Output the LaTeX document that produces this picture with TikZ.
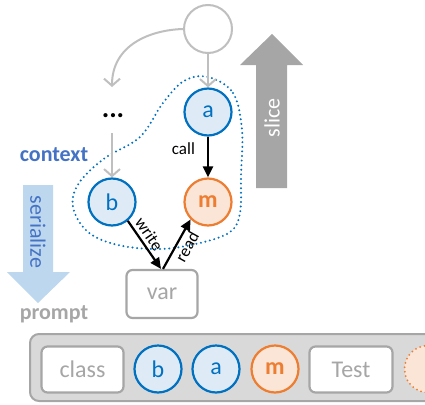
\documentclass[tikz,border=0pt]{standalone}
\usepackage{fontspec}
\setmainfont{Carlito}
\usetikzlibrary{arrows.meta}

\definecolor{fnblue}{HTML}{0070C0}
\definecolor{fnbluefill}{HTML}{DEEBF7}
\definecolor{fnorange}{HTML}{ED7D31}
\definecolor{fnorangefill}{HTML}{FBE5D6}
\definecolor{ctxblue}{HTML}{4472C4}
\definecolor{serblue}{HTML}{BDD7EE}
\definecolor{tgray}{HTML}{A6A6A6}
\definecolor{cgray}{HTML}{BFBFBF}
\definecolor{barfill}{HTML}{D9D9D9}

\tikzset{
  fn/.style={circle, minimum size=47pt, inner sep=0pt, line width=2.2pt,
    draw=fnblue, fill=fnbluefill, text=fnblue, font=\fontsize{24}{26}\selectfont},
  focal/.style={fn, draw=fnorange, fill=fnorangefill, text=fnorange,
    font=\fontsize{24}{26}\selectfont\bfseries},
  tok/.style={draw=tgray, line width=2.2pt, rounded corners=6pt, fill=white,
    text=tgray, font=\fontsize{24}{26}\selectfont},
  flow/.style={line width=2.2pt, -{Triangle[length=11pt,width=10pt]}},
  ghost/.style={line width=2pt, draw=cgray, -{Straight Barb[length=7pt,width=16pt]}},
  edgelbl/.style={font=\fontsize{17}{19}\selectfont, inner sep=2pt}
}

\begin{document}
\begin{tikzpicture}[x=1pt,y=-1pt]
			%%%%% START %%%%%
			\useasboundingbox (0,0) rectangle (425,404);
			
			% slice arrow
			\fill[tgray] (256,188) -- (256,65) -- (240,65) -- (272,34) -- (303,65) -- (287,65) -- (287,188) -- cycle;
			\node[text=white, rotate=90, font=\fontsize{22}{24}\selectfont] (slice) at (272,118) {slice};
			
			% serialize arrow
			\fill[serblue] (23,185) -- (53,185) -- (53,272) -- (70,272) -- (38,303) -- (7,272) -- (23,272) -- cycle;
			\node[text=ctxblue, rotate=-90, font=\fontsize{22}{24}\selectfont] (ser) at (38,232) {serialize};
			
			\node[text=ctxblue, font=\fontsize{22}{24}\selectfont\bfseries] (ctx) at (54,155) {context};
			\node[text=tgray, font=\fontsize{22}{24}\selectfont\bfseries] (prompt) at (54,314) {prompt};
			
			% context boundary
			\draw[fnblue, line width=2.2pt, line cap=round, dash pattern=on 0pt off 4.6pt]
				plot[smooth cycle, tension=0.6] coordinates {(208,77) (233,93) (242,130) (241,175) (240,213)
				(230,232) (200,243) (160,249) (118,245) (88,232) (73,207) (79,183) (105,158) (140,137) (163,103) (184,81)};
			
			% call graph
			\node[circle, draw=cgray, line width=2pt, fill=white, minimum size=48pt] (top) at (208,29) {};
			\node[fn] (a) at (208,112) {a};
			\node[fn] (b) at (112,202) {b};
			\node[focal] (m) at (208,202) {m};
			\node[font=\fontsize{28}{30}\selectfont\bfseries, inner sep=1pt] (dots) at (113,116) {...};
			\coordinate (dotsin) at (112,87);
			
			\draw[ghost] (top) -- (a);
			\draw[ghost] (top.west) .. controls (150,30) and (112,45) .. (dotsin);
			\draw[ghost] (112,133) -- (b);
			
			\draw[flow] (a) -- node[edgelbl, left=10pt, pos=0.3] (call) {call} (m);
			
			\node[tok, minimum width=71pt, minimum height=48pt] (var) at (162,294) {var};
			\draw[flow] (b.-50) -- node[edgelbl, sloped, above=1pt, pos=0.4] (write) {write} ([xshift=-1pt]var.north);
			\draw[flow] ([xshift=1pt]var.north) -- node[edgelbl, sloped, below=1pt, pos=0.55] (read) {read} (m.-135);
			
			% serialized prompt
			\draw[draw=tgray, fill=barfill, line width=2pt, rounded corners=9pt] (30,334) rectangle (470,401);
			\node[tok, minimum width=82pt, minimum height=46pt] (pclass) at (82.5,369.5) {class};
			\node[fn] (pb) at (158,369) {b};
			\node[fn] (pa) at (216,369) {a};
			\node[focal] (pm) at (275,369) {m};
			\node[tok, minimum width=83pt, minimum height=46pt] (ptest) at (351,369.5) {Test};
			\node[circle, minimum size=47pt, line width=2pt, draw=fnorange, fill=fnorangefill,
				line cap=round, dash pattern=on 0pt off 4.5pt] (pnext) at (428,369) {};
			
			%%%%% END %%%%%
\end{tikzpicture}
\end{document}
